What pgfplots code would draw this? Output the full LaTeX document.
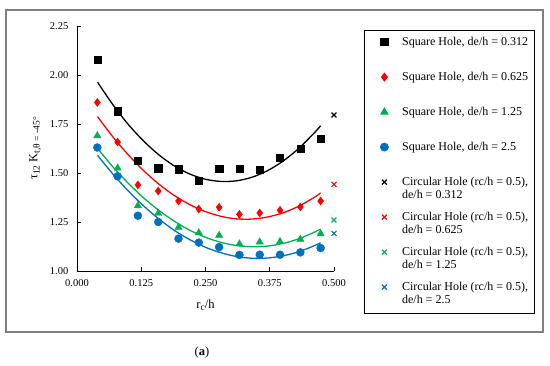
\documentclass[border=0pt]{standalone}
\usepackage{fontspec}
\setmainfont{Liberation Serif}
\usepackage{pgfplots}
\pgfplotsset{compat=1.18}
\definecolor{exred}{RGB}{255,0,0}
\definecolor{exgreen}{RGB}{0,176,80}
\definecolor{exblue}{RGB}{0,112,192}
\definecolor{framegray}{RGB}{128,128,128}
\pgfplotsset{
  lgmark/.style={only marks,
    legend image code/.code={%
      \path[draw=none,fill=none] (0pt,0pt) -- (28pt,0pt);
      \draw[mark repeat=2,mark phase=2,##1] plot coordinates {(0pt,3.8pt)(14pt,3.8pt)(28pt,3.8pt)};}},
}
\newcommand{\sub}[1]{\raisebox{-2.2pt}{\fontsize{9.5}{10}\selectfont #1}}
\begin{document}
\fontsize{10.3}{12.5}\selectfont
\begin{tikzpicture}
\useasboundingbox (-77pt,-95pt) rectangle (473pt,271pt);
\begin{axis}[
  at={(0pt,0pt)}, anchor=south west,
  scale only axis, width=257pt, height=245pt,
  xmin=0, xmax=0.5, ymin=1, ymax=2.25,
  xtick={0,0.125,0.25,0.375,0.5},
  ytick={1,1.25,1.5,1.75,2,2.25},
  axis x line*=bottom, axis y line*=left,
  axis line style={-, line width=0.9pt, black},
  tick style={line width=0.9pt, black},
  tick align=inside, major tick length=4pt,
  /pgf/number format/assume math mode=true,
  tick label style={font=\fontsize{10.5}{12}\selectfont},
  xticklabel style={/pgf/number format/fixed, /pgf/number format/fixed zerofill, /pgf/number format/precision=3, yshift=-5pt},
  yticklabel style={/pgf/number format/fixed, /pgf/number format/fixed zerofill, /pgf/number format/precision=2, xshift=-5pt},
  clip=false,
  xlabel={r\sub{c}/h},
  ylabel={τ\sub{12} K\sub{t,θ = -45°}},
  xlabel style={at={(axis description cs:0.5,-0.139)}, anchor=center, font=\fontsize{12.5}{13}\selectfont},
  ylabel style={at={(axis description cs:-0.163,0.5)}, anchor=center, font=\fontsize{12.5}{13}\selectfont},
  legend style={at={(axis description cs:1.1167,0.9837)}, anchor=north west,
    draw=black, line width=0.8pt, inner xsep=6pt, inner ysep=6.5pt,
    row sep=10.3pt, column sep=3.7pt,
    cells={anchor=base west},
    font=\fontsize{12}{12.7}\selectfont,
    nodes={inner sep=0pt, text height=9pt, text depth=15.7pt}},
]
% data markers
\addplot[lgmark, mark=square*, mark size=3.6pt, black] coordinates {
 (0.0395,2.080) (0.0790,1.815) (0.1185,1.563) (0.1580,1.524) (0.1975,1.519) (0.2370,1.459)
 (0.2765,1.520) (0.3160,1.522) (0.3555,1.515) (0.3950,1.576) (0.4345,1.623) (0.4740,1.674)};
\addlegendentry{Square Hole, de/h = 0.312}
\addplot[lgmark, mark=diamond*, mark size=4pt, exred] coordinates {
 (0.0395,1.860) (0.0790,1.658) (0.1185,1.439) (0.1580,1.408) (0.1975,1.357) (0.2370,1.316)
 (0.2765,1.325) (0.3160,1.289) (0.3555,1.296) (0.3950,1.310) (0.4345,1.327) (0.4740,1.357)};
\addlegendentry{Square Hole, de/h = 0.625}
\addplot[lgmark, mark=triangle*, mark size=4.2pt, exgreen] coordinates {
 (0.0395,1.690) (0.0790,1.525) (0.1185,1.333) (0.1580,1.294) (0.1975,1.223) (0.2370,1.195)
 (0.2765,1.182) (0.3160,1.138) (0.3555,1.148) (0.3950,1.150) (0.4345,1.162) (0.4740,1.190)};
\addlegendentry{Square Hole, de/h = 1.25}
\addplot[lgmark, mark=*, mark size=4pt, exblue] coordinates {
 (0.0395,1.630) (0.0790,1.483) (0.1185,1.282) (0.1580,1.250) (0.1975,1.165) (0.2370,1.145)
 (0.2765,1.122) (0.3160,1.082) (0.3555,1.083) (0.3950,1.083) (0.4345,1.095) (0.4740,1.117)};
\addlegendentry{Square Hole, de/h = 2.5}
\addplot[lgmark, mark=x, mark size=3.5pt, line width=1.2pt, black] coordinates {(0.5,1.796)};
\addlegendentry{\begin{tabular}[t]{@{}l@{}}Circular Hole (rc/h = 0.5),\\de/h = 0.312\end{tabular}}
\addplot[lgmark, mark=x, mark size=3.5pt, line width=1.2pt, exred] coordinates {(0.5,1.442)};
\addlegendentry{\begin{tabular}[t]{@{}l@{}}Circular Hole (rc/h = 0.5),\\de/h = 0.625\end{tabular}}
\addplot[lgmark, mark=x, mark size=3.5pt, line width=1.2pt, exgreen] coordinates {(0.5,1.260)};
\addlegendentry{\begin{tabular}[t]{@{}l@{}}Circular Hole (rc/h = 0.5),\\de/h = 1.25\end{tabular}}
\addplot[lgmark, mark=x, mark size=3.5pt, line width=1.2pt, exblue] coordinates {(0.5,1.192)};
\addlegendentry{\begin{tabular}[t]{@{}l@{}}Circular Hole (rc/h = 0.5),\\de/h = 2.5\end{tabular}}
% trend curves
\addplot[forget plot, no marks, smooth, line width=1.3pt, black] coordinates {
 (0.04,1.963) (0.07,1.848) (0.10,1.747) (0.13,1.662) (0.16,1.591) (0.19,1.535) (0.22,1.494)
 (0.25,1.468) (0.28,1.457) (0.31,1.460) (0.34,1.478) (0.37,1.511) (0.40,1.559) (0.43,1.622)
 (0.46,1.700) (0.474,1.741)};
\addplot[forget plot, no marks, smooth, line width=1.3pt, exred] coordinates {
 (0.04,1.787) (0.07,1.684) (0.10,1.592) (0.13,1.511) (0.16,1.442) (0.19,1.384) (0.22,1.338)
 (0.25,1.303) (0.28,1.279) (0.31,1.266) (0.34,1.265) (0.37,1.275) (0.40,1.296) (0.43,1.329)
 (0.46,1.373) (0.474,1.398)};
\addplot[forget plot, no marks, smooth, line width=1.3pt, exgreen] coordinates {
 (0.04,1.625) (0.07,1.531) (0.10,1.447) (0.13,1.372) (0.16,1.308) (0.19,1.253) (0.22,1.207)
 (0.25,1.172) (0.28,1.146) (0.31,1.130) (0.34,1.124) (0.37,1.127) (0.40,1.140) (0.43,1.163)
 (0.46,1.196) (0.474,1.214)};
\addplot[forget plot, no marks, smooth, line width=1.3pt, exblue] coordinates {
 (0.04,1.590) (0.07,1.494) (0.10,1.408) (0.13,1.331) (0.16,1.264) (0.19,1.206) (0.22,1.159)
 (0.25,1.121) (0.28,1.093) (0.31,1.074) (0.34,1.065) (0.37,1.066) (0.40,1.077) (0.43,1.097)
 (0.46,1.127) (0.474,1.144)};
\end{axis}
\draw[framegray, line width=1.3pt] (-71pt,-61pt) rectangle (466pt,261pt);
\node[font=\fontsize{12.5}{13}\selectfont] at (125pt,-81pt) {(\textbf{a})};
\end{tikzpicture}
\end{document}
